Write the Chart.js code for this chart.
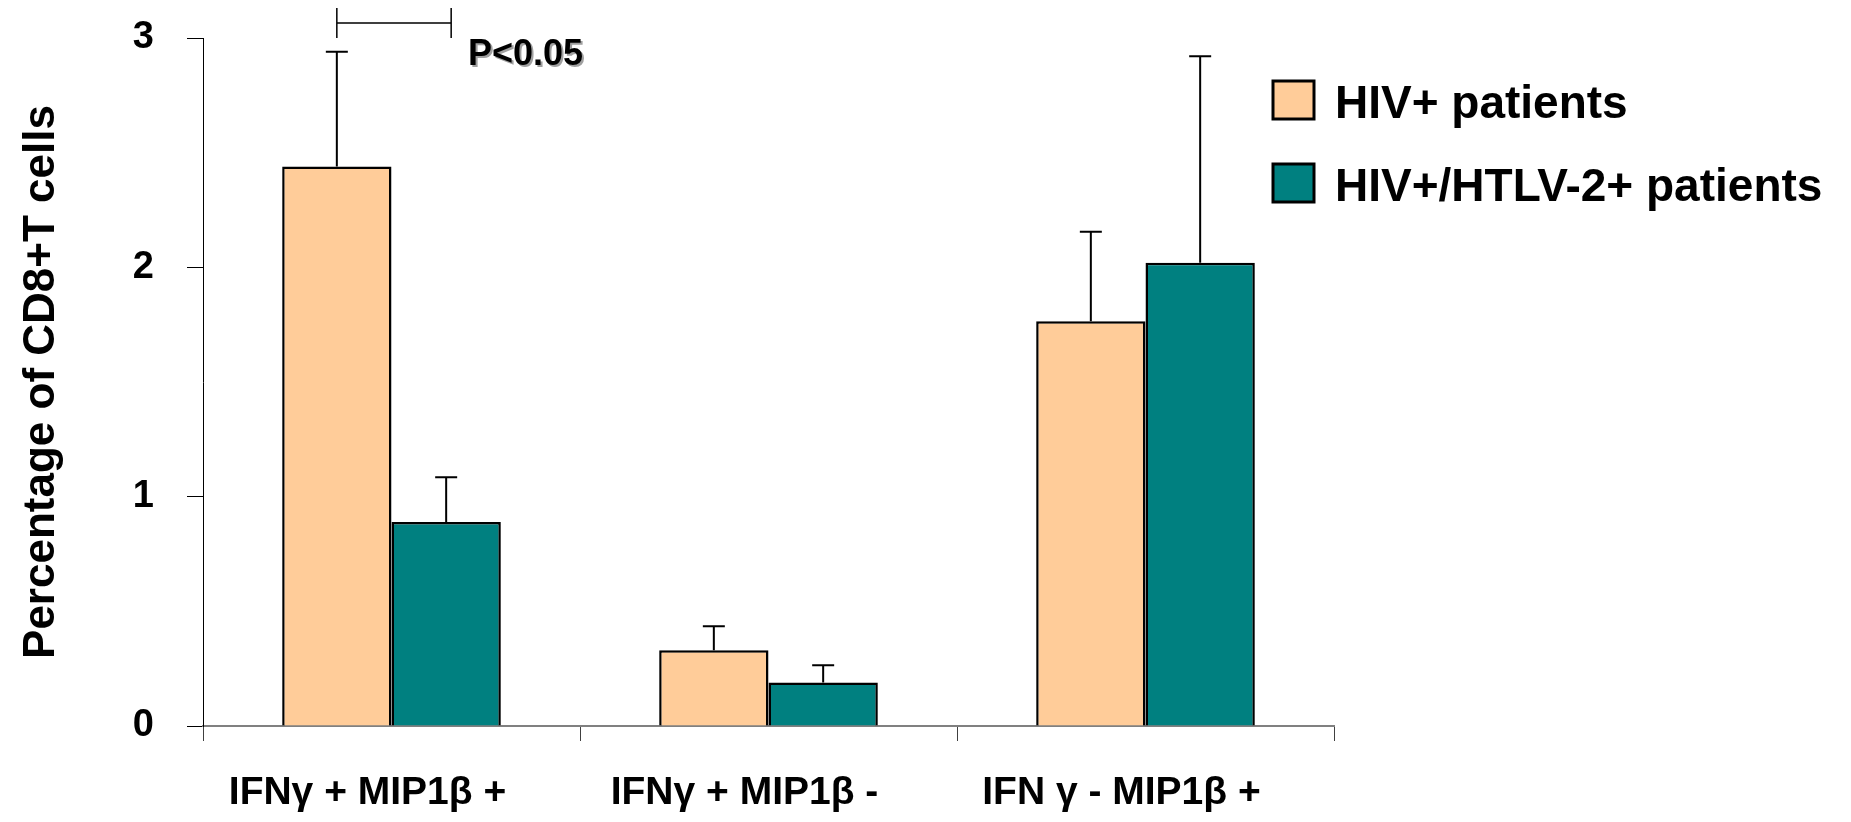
<!DOCTYPE html>
<html lang="en">
<head>
    <meta charset="UTF-8">
    <title>CD8+ T cells</title>
    <style>
        html, body { margin: 0; padding: 0; background: #fff; }
        #wrap { width: 1851px; height: 822px; }
    </style>
</head>
<body>
    <div id="wrap"><canvas id="grafica"></canvas></div>

    <script src="https://cdn.jsdelivr.net/npm/chart.js"></script>
    <script>
        // datos
        let categorias = ['IFNγ + MIP1β +', 'IFNγ + MIP1β -', 'IFN γ - MIP1β +'];
        let hivMedia = [2.44, 0.33, 1.765];
        let hivError = [0.50, 0.105, 0.39];
        let coMedia = [0.89, 0.19, 2.02];
        let coError = [0.195, 0.075, 0.90];
        let etiquetas = ['HIV+ patients', 'HIV+/HTLV-2+ patients'];
        let yTicks = [0, 1, 2, 3];
        let pTexto = 'P<0.05';
        let pNivel = 3.065;

        const FUENTE = 'Liberation Sans, Arial, sans-serif';

        // barras de error (solo hacia arriba)
        const errorBars = {
            id: 'errorBars',
            afterDatasetsDraw(chart) {
                const ctx = chart.ctx;
                const y = chart.scales.y;
                ctx.save();
                ctx.strokeStyle = '#000';
                ctx.lineWidth = 2;
                chart.data.datasets.forEach((ds, i) => {
                    chart.getDatasetMeta(i).data.forEach((bar, j) => {
                        let top = y.getPixelForValue(ds.data[j] + ds.errores[j]);
                        let base = y.getPixelForValue(ds.data[j]);
                        ctx.beginPath();
                        ctx.moveTo(bar.x, base);
                        ctx.lineTo(bar.x, top);
                        ctx.moveTo(bar.x - 11, top);
                        ctx.lineTo(bar.x + 11, top);
                        ctx.stroke();
                    });
                });
                ctx.restore();
            }
        };

        // corchete de significancia + leyenda
        const extras = {
            id: 'extras',
            afterDraw(chart) {
                const ctx = chart.ctx;
                const y = chart.scales.y;
                let x1 = chart.getDatasetMeta(0).data[0].x;
                let x2 = chart.getDatasetMeta(1).data[0].x + 5;
                let yb = y.getPixelForValue(pNivel);
                ctx.save();
                ctx.strokeStyle = '#000';
                ctx.lineWidth = 1.5;
                ctx.beginPath();
                ctx.moveTo(x1, yb); ctx.lineTo(x2, yb);
                ctx.moveTo(x1, yb - 15); ctx.lineTo(x1, yb + 15);
                ctx.moveTo(x2, yb - 15); ctx.lineTo(x2, yb + 15);
                ctx.stroke();

                ctx.font = 'bold 36px ' + FUENTE;
                ctx.textBaseline = 'middle';
                ctx.textAlign = 'left';
                ctx.fillStyle = '#a0a0a0';
                ctx.fillText(pTexto, 470, 57);
                ctx.fillStyle = '#000';
                ctx.fillText(pTexto, 468, 55);

                // leyenda
                ctx.font = 'bold 46px ' + FUENTE;
                chart.data.datasets.forEach((ds, i) => {
                    let by = 81 + i * 83;
                    ctx.fillStyle = ds.backgroundColor;
                    ctx.fillRect(1273, by, 41, 38);
                    ctx.lineWidth = 3;
                    ctx.strokeStyle = '#000';
                    ctx.strokeRect(1273, by, 41, 38);
                    ctx.fillStyle = '#000';
                    ctx.fillText(ds.label, 1335, by + 24);
                });
                ctx.restore();
            }
        };

        new Chart(document.getElementById('grafica'), {
            type: 'bar',
            data: {
                labels: categorias,
                datasets: [{
                    label: etiquetas[0],
                    data: hivMedia,
                    errores: hivError,
                    backgroundColor: '#FFCC99',
                    borderColor: '#000',
                    borderWidth: 2.5,
                    categoryPercentage: 0.58,
                    barPercentage: 1.0
                }, {
                    label: etiquetas[1],
                    data: coMedia,
                    errores: coError,
                    backgroundColor: '#008080',
                    borderColor: '#000',
                    borderWidth: 2.5,
                    categoryPercentage: 0.58,
                    barPercentage: 1.0
                }]
            },
            options: {
                responsive: true,
                maintainAspectRatio: false,
                animation: false,
                layout: { padding: { top: 38, right: 517, bottom: 0, left: 0 } },
                plugins: {
                    legend: { display: false },
                    tooltip: { enabled: false }
                },
                scales: {
                    x: {
                        afterFit(scale) { scale.height = 96; },
                        grid: {
                            offset: true,
                            drawOnChartArea: false,
                            drawTicks: true,
                            tickLength: 15,
                            color: '#404040',
                            lineWidth: 1
                        },
                        border: { display: true, color: '#808080', width: 2 },
                        ticks: {
                            color: '#000',
                            padding: 29,
                            labelOffset: -24,
                            maxRotation: 0,
                            font: { family: FUENTE, size: 39, weight: 'bold' }
                        }
                    },
                    y: {
                        min: 0,
                        max: 3,
                        afterFit(scale) {
                            scale.width = 203;
                            scale.paddingTop = 0;
                            scale.paddingBottom = 0;
                        },
                        afterBuildTicks(scale) { scale.ticks = yTicks.map(v => ({ value: v })); },
                        grid: {
                            drawOnChartArea: false,
                            drawTicks: true,
                            tickLength: 16,
                            color: '#000',
                            lineWidth: 1
                        },
                        border: { display: true, color: '#000', width: 1 },
                        ticks: {
                            color: '#000',
                            padding: 33,
                            font: { family: FUENTE, size: 38, weight: 'bold' }
                        },
                        title: {
                            display: true,
                            text: 'Percentage of CD8+T cells',
                            color: '#000',
                            padding: { top: 15, bottom: 0 },
                            font: { family: FUENTE, size: 44, weight: 'bold' }
                        }
                    }
                }
            },
            plugins: [errorBars, extras]
        });
    </script>
</body>
</html>
